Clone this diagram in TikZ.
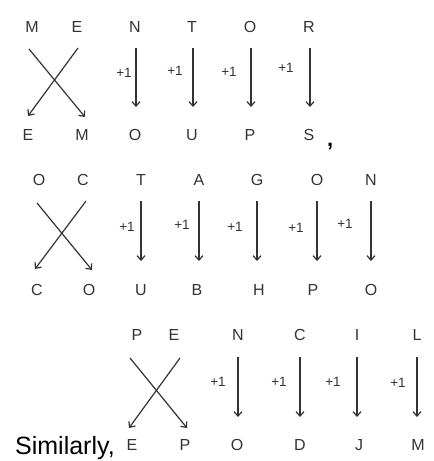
\documentclass[tikz,border=0pt]{standalone}
\usepackage{fontspec}
\setmainfont{Liberation Sans}
\usetikzlibrary{arrows.meta,positioning}
\definecolor{ink}{HTML}{333333}

\begin{document}
\begin{tikzpicture}[
    x=1pt, y=-1pt,
    letter/.style={inner sep=0pt, text=ink, font=\fontsize{16}{16}\selectfont},
    plus/.style={inner sep=0pt, text=ink, font=\fontsize{13.5}{14}\selectfont},
    arr/.style={->, draw=ink, line width=1.2pt},
    >={Straight Barb[length=4.5pt,width=8pt]}
  ]
  \useasboundingbox (0,0) rectangle (434,461);

  % MENTOR -> EMOUPS
  \node[letter] (r1t1) at (32,27) {M};
  \node[letter] (r1t2) at (77,27) {E};
  \node[letter] (r1b1) at (28,135) {E};
  \node[letter] (r1b2) at (82,135) {M};
  \draw[arr] ([shift={(-3,22)}]r1t1.center) -- ([shift={(3,-18)}]r1b2.center);
  \draw[arr] ([shift={(1,21)}]r1t2.center) -- ([shift={(0,-19)}]r1b1.center);
  \foreach \i/\tl/\bl/\x/\lx/\ly in {3/N/O/135/124/73, 4/T/U/192/175/71, 5/O/P/250/229/72, 6/R/S/309/286/68} {
    \node[letter] (r1t\i) at (\x,27) {\tl};
    \node[letter] (r1b\i) at (\x,135) {\bl};
    \draw[arr] ([shift={(1,21)}]r1t\i.center) -- ([shift={(1,-28)}]r1b\i.center);
    \node[plus] (r1p\i) at (\lx,\ly) {+1};
  }
  \node[inner sep=0pt, anchor=base west, font=\fontsize{22}{22}\selectfont\bfseries] (comma) at (327,146) {,};

  % OCTAGON -> COUBHPO
  \node[letter] (r2t1) at (39,180) {O};
  \node[letter] (r2t2) at (83,180) {C};
  \node[letter] (r2b1) at (37,290) {C};
  \node[letter] (r2b2) at (89,290) {O};
  \draw[arr] ([shift={(-2,23)}]r2t1.center) -- ([shift={(3,-20)}]r2b2.center);
  \draw[arr] ([shift={(3,21)}]r2t2.center) -- ([shift={(-2,-21)}]r2b1.center);
  \foreach \i/\tl/\bl/\x/\bx/\lx/\ly in {3/T/U/141/141/127/227, 4/A/B/199/197/182/225, 5/G/H/257/259/235/227, 6/O/P/317/313/296/228, 7/N/O/371/371/345/224} {
    \node[letter] (r2t\i) at (\x,180) {\tl};
    \node[letter] (r2b\i) at (\bx,290) {\bl};
    \draw[arr] ([shift={(0,21)}]r2t\i.center) -- ([shift={(\x-\bx,-29)}]r2b\i.center);
    \node[plus] (r2p\i) at (\lx,\ly) {+1};
  }

  % PENCIL -> EPODJM
  \node[letter] (r3t1) at (137,335) {P};
  \node[letter] (r3t2) at (174,335) {E};
  \node[letter] (r3b1) at (132,445) {E};
  \node[letter] (r3b2) at (185,445) {P};
  \draw[arr] ([shift={(-7,23)}]r3t1.center) -- ([shift={(2,-17)}]r3b2.center);
  \draw[arr] ([shift={(6,23)}]r3t2.center) -- ([shift={(-3,-17)}]r3b1.center);
  \foreach \i/\tl/\bl/\x/\bx/\lx/\ly in {3/N/O/238/237/218/382, 4/C/D/300/300/279/382, 5/I/J/357/359/333/382, 6/L/M/417/418/398/383} {
    \node[letter] (r3t\i) at (\x,335) {\tl};
    \node[letter] (r3b\i) at (\bx,445) {\bl};
    \draw[arr] ([shift={(0,22)}]r3t\i.center) -- ([shift={(\x-\bx,-28)}]r3b\i.center);
    \node[plus] (r3p\i) at (\lx,\ly) {+1};
  }
  \node[inner sep=0pt, anchor=base west, font=\fontsize{25}{25}\selectfont] (similar) at (15,454) {Similarly,};
\end{tikzpicture}
\end{document}
